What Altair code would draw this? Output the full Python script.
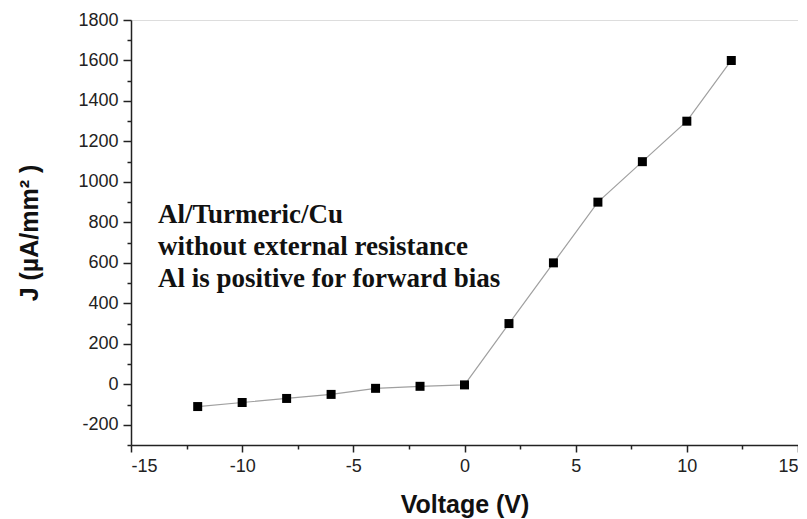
import altair as alt
import pandas as pd

voltage = [-12, -10, -8, -6, -4, -2, 0, 2, 4, 6, 8, 10, 12]
current = [-110, -90, -70, -50, -20, -10, -3, 300, 600, 900, 1100, 1300, 1600]

x_major = [-15, -10, -5, 0, 5, 10, 15]
x_minor = [-12.5, -7.5, -2.5, 2.5, 7.5, 12.5]
y_major = [-200, 0, 200, 400, 600, 800, 1000, 1200, 1400, 1600, 1800]
y_minor = [-300, -100, 100, 300, 500, 700, 900, 1100, 1300, 1500, 1700]

notes = ["Al/Turmeric/Cu", "without external resistance", "Al is positive for forward bias"]
note_y = [203, 235, 267]

df = pd.DataFrame({"V": voltage, "J": current})
notes_df = pd.DataFrame({"t": notes, "py": note_y})

xs = alt.Scale(domain=[-15, 15], nice=False, zero=False)
ys = alt.Scale(domain=[-300, 1800], nice=False, zero=False)

lab = "datum.value + ''"

major_x = alt.Axis(values=x_major, title="Voltage (V)", orient="bottom", grid=False, labelExpr=lab,
                   tickSize=7, tickWidth=1.5, tickColor="#222", domainColor="#222", domainWidth=1.5,
                   labelFont="Liberation Sans", labelFontSize=18, labelColor="#222", labelPadding=5,
                   titleFont="Liberation Sans", titleFontSize=25, titleFontWeight="bold",
                   titleColor="#111", titlePadding=17)
major_y = alt.Axis(values=y_major, title="J (µA/mm² )", orient="left", grid=False, labelExpr=lab,
                   tickSize=8, tickWidth=1.5, tickColor="#222", domainColor="#222", domainWidth=1.5,
                   labelFont="Liberation Sans", labelFontSize=18, labelColor="#222", labelPadding=5,
                   titleFont="Liberation Sans", titleFontSize=25, titleFontWeight="bold",
                   titleColor="#111", titlePadding=35)
minor_x = alt.Axis(values=x_minor, title=None, orient="bottom", grid=False, labels=False,
                   domain=False, tickSize=4, tickWidth=1.5, tickColor="#222")
minor_y = alt.Axis(values=y_minor, title=None, orient="left", grid=False, labels=False,
                   domain=False, tickSize=4, tickWidth=1.5, tickColor="#222")

line = alt.Chart(df).mark_line(color="#a0a0a0", strokeWidth=1.2).encode(
    x=alt.X("V:Q", scale=xs, axis=major_x),
    y=alt.Y("J:Q", scale=ys, axis=major_y),
)
pts = alt.Chart(df).mark_square(size=81, color="black", opacity=1).encode(
    x=alt.X("V:Q", scale=xs, axis=minor_x),
    y=alt.Y("J:Q", scale=ys, axis=minor_y),
)
txt = alt.Chart(notes_df).mark_text(align="left", baseline="alphabetic", font="Liberation Serif",
                                     fontSize=27, fontWeight="bold", color="#111").encode(
    x=alt.value(27),
    y=alt.Y("py:Q", scale=None),
    text="t:N",
)

chart = alt.layer(line, pts, txt).resolve_axis(x="independent", y="independent").properties(
    width=667, height=425,
    autosize=alt.AutoSizeParams(type="none"),
    padding={"left": 123, "top": 12, "right": 0, "bottom": 78},
).configure_view(stroke="#222", strokeWidth=1.5).configure(background="white")

chart.save("out.html", embed_options={"renderer": "svg", "actions": False})
